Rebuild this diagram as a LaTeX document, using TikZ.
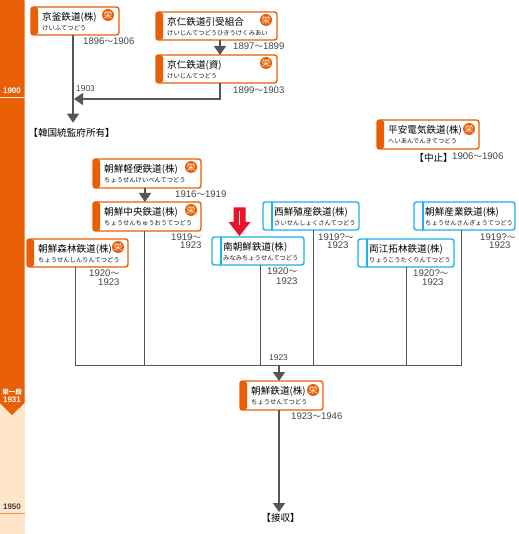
\documentclass[tikz,border=0pt]{standalone}
\usepackage{fontspec}
\usetikzlibrary{arrows.meta}
\setmainfont{Liberation Sans}
\newfontfamily\cjk{Noto Sans CJK JP}
\definecolor{railorange}{HTML}{E85F05}
\definecolor{railblue}{HTML}{1CB2EA}
\definecolor{railpale}{HTML}{FFE6CA}
\definecolor{railgray}{HTML}{55555A}
\definecolor{railred}{HTML}{E8142C}
\definecolor{railtext}{HTML}{444444}
\newcommand{\wv}{{\cjk\fontsize{8.5}{8.5}\selectfont ～}}
\tikzset{
  railbase/.style={draw, fill=white, rounded corners=2.5pt, line width=1.4pt, inner sep=0pt, outer sep=0pt, anchor=north west},
  orangebox/.style={railbase, draw=railorange, path picture={\fill[railorange] (path picture bounding box.south west) rectangle ([xshift=7pt]path picture bounding box.north west);}},
  bluebox/.style={railbase, draw=railblue, path picture={\draw[railblue, line width=1.2pt] ([xshift=9pt]path picture bounding box.south west) -- ([xshift=9pt]path picture bounding box.north west);}},
  titletext/.style={anchor=west, inner sep=0pt, text=black, font=\cjk\fontsize{9.6}{10}\selectfont},
  subtext/.style={anchor=west, inner sep=0pt, text=black!90, font=\cjk\fontsize{6.3}{7}\selectfont},
  badge/.style={circle, fill=railorange, text=white, inner sep=0pt, minimum size=12pt, font=\cjk\fontsize{8.5}{9}\selectfont},
  yeartext/.style={anchor=west, inner sep=0pt, text=railtext, font=\fontsize{9.6}{10}\selectfont},
  smallyear/.style={anchor=west, inner sep=0pt, text=railtext, font=\fontsize{8.4}{9}\selectfont},
  statustext/.style={anchor=west, inner sep=0pt, text=black, font=\cjk\fontsize{9.6}{10}\selectfont},
  sidetext/.style={inner sep=0pt, text=white, font=\bfseries\fontsize{8}{8}\selectfont},
  flow/.style={draw=railgray, line width=1.2pt, -{Triangle[width=12pt,length=9pt]}},
  busline/.style={draw=railgray, line width=1pt},
}
\newcommand{\railbox}[8]{%
  \pgfmathsetlengthmacro{\bw}{(#4-#2)*1pt}%
  \pgfmathsetlengthmacro{\bh}{(#5-#3)*1pt}%
  \node[#8, minimum width=\bw, minimum height=\bh] (#1) at (#2,#3) {};
  \node[titletext] (#1t) at ({#2+11},{#3+10}) {#6};
  \node[subtext] (#1s) at ({#2+11},{#3+21.5}) {#7};
}
\newcommand{\brk}[1]{\kern-4.8pt【#1】\kern-4.8pt}
\begin{document}
\begin{tikzpicture}[x=1pt,y=-1pt]
\useasboundingbox (0,0) rectangle (518,534);
% timeline band
\fill[railpale] (0,390) rectangle (24.5,534);
\fill[railorange] (0,0) -- (24.5,0) -- (24.5,403) -- (12,415) -- (0,403) -- cycle;
\draw[railpale, line width=0.6pt] (0,97) -- (24.5,97);
\draw[railorange!70, line width=0.8pt] (0,513) -- (24.5,513);
\node[sidetext] (y1900) at (12,91) {1900};
\node[sidetext, font=\cjk\bfseries\fontsize{6.5}{7}\selectfont] (y1931a) at (12,392) {栄一段};
\node[sidetext] (y1931) at (12,400) {1931};
\node[sidetext, text=railtext] (y1950) at (12,507) {1950};
% boxes
\railbox{kf}{31}{7}{119}{35}{京釜鉄道(株)}{けいふてつどう}{orangebox}
\railbox{kh}{156}{12}{277}{40}{京仁鉄道引受組合}{けいじんてつどうひきうけくみあい}{orangebox}
\railbox{kj}{156}{55}{277}{83}{京仁鉄道(資)}{けいじんてつどう}{orangebox}
\railbox{ha}{377}{120}{479}{149}{平安電気鉄道(株)}{へいあんでんきてつどう}{orangebox}
\railbox{kb}{93}{159}{201}{188}{朝鮮軽便鉄道(株)}{ちょうせんけいべんてつどう}{orangebox}
\railbox{cc}{93}{202}{201}{231}{朝鮮中央鉄道(株)}{ちょうせんちゅうおうてつどう}{orangebox}
\railbox{sr}{27}{239}{128}{267}{朝鮮森林鉄道(株)}{ちょうせんしんりんてつどう}{orangebox}
\railbox{mn}{212}{237}{304}{265}{南朝鮮鉄道(株)}{みなみちょうせんてつどう}{bluebox}
\railbox{ss}{263}{202}{359}{230}{西鮮殖産鉄道(株)}{さいせんしょくさんてつどう}{bluebox}
\railbox{ry}{358}{239}{454}{267}{両江拓林鉄道(株)}{りょうこうたくりんてつどう}{bluebox}
\railbox{sg}{414}{202}{515}{230}{朝鮮産業鉄道(株)}{ちょうせんさんぎょうてつどう}{bluebox}
\railbox{ct}{240}{381}{323}{410}{朝鮮鉄道(株)}{ちょうせんてつどう}{orangebox}
% badges
\node[badge] (b1) at (108,15) {栄};
\node[badge] (b2) at (266,20) {栄};
\node[badge] (b3) at (266,63) {栄};
\node[badge] (b4) at (469,129) {栄};
\node[badge] (b5) at (191,167) {栄};
\node[badge] (b6) at (191,210) {栄};
\node[badge] (b7) at (118,247) {栄};
\node[badge] (b8) at (313,390) {栄};
% named connector points
\coordinate (kfend) at (73,122.7);
\coordinate (kc) at (220,99);
\coordinate (ktip) at (74,99);
\coordinate (khx) at (220,55);
\coordinate (kbx) at (145,202);
\coordinate (j1) at (75.5,365.5);
\coordinate (j2) at (144.5,365.5);
\coordinate (j3) at (260.5,365.5);
\coordinate (j4) at (313.5,365.5);
\coordinate (j5) at (406.5,365.5);
\coordinate (j6) at (461.5,365.5);
\coordinate (jm) at (279,365.5);
\coordinate (ctin) at (279,381);
\coordinate (endp) at (279,512);
% connectors
\draw[flow] (kf.south -| kfend) -- (kfend);
\draw[flow] (kj.south -| kc) -- (kc) -- (ktip);
\draw[flow] (kh.south -| khx) -- (khx);
\draw[flow] (kb.south -| kbx) -- (kbx);
\draw[busline] (sr.south -| j1) -- (j1);
\draw[busline] (cc.south -| j2) -- (j2);
\draw[busline] (mn.south -| j3) -- (j3);
\draw[busline] (ss.south -| j4) -- (j4);
\draw[busline] (ry.south -| j5) -- (j5);
\draw[busline] (sg.south -| j6) -- (j6);
\draw[busline, line cap=rect] (j1) -- (j6);
\draw[flow] (jm) -- (ctin);
\draw[flow] (ct.south -| endp) -- (endp);
% red marker
\fill[railred] (233.5,207.5) -- (245.5,207.5) -- (245.5,222) -- (250.5,222) -- (239.5,236) -- (228.5,222) -- (233.5,222) -- cycle;
\draw[white, line width=1.4pt] (239.5,211) -- (239.5,225);
% years
\node[yeartext] (t1) at (83,41.5) {1896\wv 1906};
\node[yeartext] (t2) at (233,46.5) {1897\wv 1899};
\node[yeartext] (t3) at (233,90) {1899\wv 1903};
\node[smallyear] (t4) at (76,89) {1903};
\node[yeartext] (t5) at (175,194) {1916\wv 1919};
\node[yeartext] (t6) at (171,237) {1919\wv};
\node[yeartext] (t6b) at (180,245.5) {1923};
\node[yeartext] (t7) at (89,273) {1920\wv};
\node[yeartext] (t7b) at (98,282) {1923};
\node[yeartext] (t8) at (267,271.5) {1920\wv};
\node[yeartext] (t8b) at (276,281) {1923};
\node[yeartext] (t9) at (318,237) {1919?\wv};
\node[yeartext] (t9b) at (327,245.5) {1923};
\node[yeartext] (t10) at (413,273) {1920?\wv};
\node[yeartext] (t10b) at (422,282) {1923};
\node[yeartext] (t11) at (480,237) {1919?\wv};
\node[yeartext] (t11b) at (489,245.5) {1923};
\node[yeartext] (t12) at (452,156) {1906\wv 1906};
\node[smallyear] (t13) at (269,358) {1923};
\node[yeartext] (t14) at (291,416) {1923\wv 1946};
% status labels
\node[statustext] (s1) at (33,133) {\brk{韓国統監府所有}};
\node[statustext] (s2) at (419,158) {\brk{中止}};
\node[statustext] (s3) at (266,518) {\brk{接収}};
\end{tikzpicture}
\end{document}
